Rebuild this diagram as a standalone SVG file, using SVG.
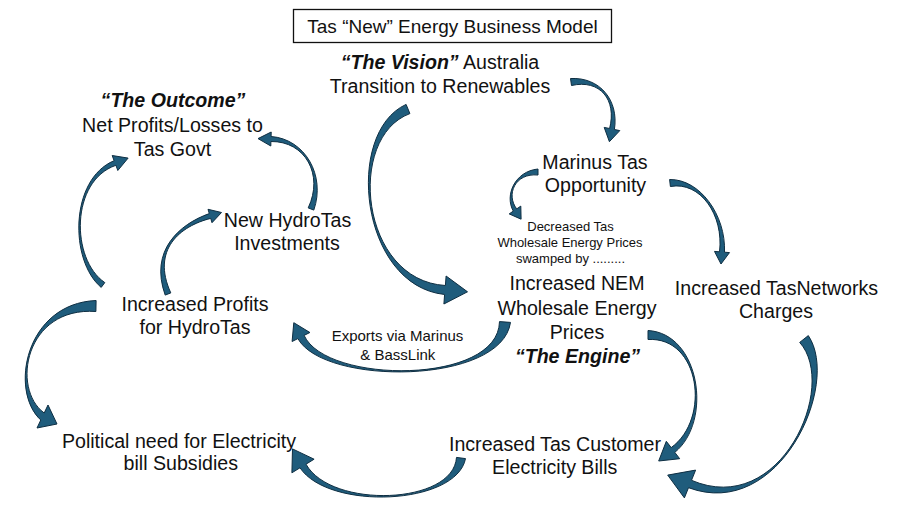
<svg xmlns="http://www.w3.org/2000/svg" width="902" height="511" viewBox="0 0 902 511">
<style>
.t{font-family:"Liberation Sans",Arial,sans-serif;font-size:19.6px;fill:#111;text-anchor:middle}
.s{font-size:13px}
.e{font-size:15px}
.bi{font-weight:bold;font-style:italic}
.ar{fill:#1f5c7c;stroke:#0e2e42;stroke-width:1;stroke-linejoin:round}
</style>
<rect x="0" y="0" width="902" height="511" fill="#fff"/>
<g id="connectors">
<path class="ar" d="M571.5,85.5 C600.1,79 617,99.8 609.6,128.5 L604.2,127.4 L609.4,141.7 L619.8,130.6 L614.4,129.5 C619,100.2 599.9,77 570.5,78.5 Z"/>
<path class="ar" d="M406.1,104.4 C344,132.7 359.8,285.5 444.6,294.5 L443.9,304 L467.5,291.8 L446.1,276 L445.4,285.5 C360.2,280.5 346,137.3 409.9,113.6 Z"/>
<path class="ar" d="M538,169 C515,171.2 504.3,195.4 513.3,211.1 L509.2,213.9 L521.1,219.2 L520.8,206.1 L516.7,208.9 C505.7,194.6 515,172.8 538,175 Z"/>
<path class="ar" d="M670.4,186.5 C700.1,181 724,214.9 719.5,251.8 L714.5,251.4 L721,264 L729.5,252.6 L724.5,252.2 C726,215.1 699.9,179 669.6,179.5 Z"/>
<path class="ar" d="M499.5,321.6 C498.5,384.9 326.3,384.3 304.1,335.4 L309.9,332.5 L293.8,322.7 L292.1,341.5 L297.9,338.6 C323.7,385.7 501.5,385.1 510.5,322.4 Z"/>
<path class="ar" d="M648,339.5 C700,336.5 711.1,418.8 671.2,447.6 L666.3,441.3 L658.7,461 L679.7,458.7 L674.8,452.4 C712.9,421.2 700,333.5 648,330.5 Z"/>
<path class="ar" d="M799.7,342.4 C838.8,385.9 780.6,518.6 691.5,480.3 L695.6,470.1 L667.7,475.1 L684.4,497.9 L688.5,487.7 C779.4,521.4 841.2,384.1 808.3,335.6 Z"/>
<path class="ar" d="M456.5,457.4 C453.5,504.8 331.3,509.2 306,464.2 L314.1,459.2 L292.5,448.9 L291.9,472.8 L300,467.8 C328.7,510.8 456.5,505.2 465.5,458.6 Z"/>
<path class="ar" d="M96.1,300.5 C25,303.5 9.1,391.2 40.8,420 L37,428 L57,424 L48,405 L44.2,413 C10.9,388.8 25,306.5 95.9,311.5 Z"/>
<path class="ar" d="M104.8,282.6 C70.6,259.2 70.4,180.9 115.9,165.3 L117.8,170.5 L128.1,158.1 L112.2,155.5 L114.1,160.7 C69.6,179.1 69.4,260.8 101.2,287.4 Z"/>
<path class="ar" d="M170.8,292.9 C150.9,249.6 180.3,226 210.7,218.4 L212,222.7 L221.5,212.5 L208,209.3 L209.3,213.6 C179.7,224 149.1,250.4 165.2,295.1 Z"/>
<path class="ar" d="M313.8,210.1 C325.9,175.4 305,139 271.1,136.5 L271.2,132 L258,138.6 L270.8,146 L270.9,141.5 C305,141 324.1,174.6 308.2,207.9 Z"/>
</g>
<g id="title">
<rect x="293.5" y="9.5" width="318" height="33" fill="#fff" stroke="#111" stroke-width="1.3"/>
<text class="t" x="452.5" y="33" style="font-size:19px">Tas “New” Energy Business Model</text>
</g>
<g id="vision">
<text class="t" x="440" y="69"><tspan class="bi">“The Vision”</tspan> Australia</text>
<text class="t" x="440" y="93">Transition to Renewables</text>
</g>
<g id="outcome">
<text class="t bi" x="173" y="107">“The Outcome”</text>
<text class="t" x="172.5" y="131.5">Net Profits/Losses to</text>
<text class="t" x="172.5" y="156">Tas Govt</text>
</g>
<g id="new-hydrotas">
<text class="t" x="287.5" y="226.5">New HydroTas</text>
<text class="t" x="287" y="250">Investments</text>
</g>
<g id="marinus">
<text class="t" x="595" y="168.5">Marinus Tas</text>
<text class="t" x="595.5" y="192">Opportunity</text>
</g>
<g id="decreased">
<text class="t s" x="570.5" y="231">Decreased Tas</text>
<text class="t s" x="570" y="246.7">Wholesale Energy Prices</text>
<text class="t s" x="570.5" y="263.3">swamped by .........</text>
</g>
<g id="engine">
<text class="t" x="577" y="290">Increased NEM</text>
<text class="t" x="577" y="315">Wholesale Energy</text>
<text class="t" x="577" y="339">Prices</text>
<text class="t bi" x="577.5" y="363">“The Engine”</text>
</g>
<g id="tasnetworks">
<text class="t" x="776.5" y="295">Increased TasNetworks</text>
<text class="t" x="776" y="317.5">Charges</text>
</g>
<g id="profits">
<text class="t" x="195" y="310.5">Increased Profits</text>
<text class="t" x="195" y="334">for HydroTas</text>
</g>
<g id="exports">
<text class="t e" x="397.5" y="340.7">Exports via Marinus</text>
<text class="t e" x="397.8" y="360">&amp; BassLink</text>
</g>
<g id="customer-bills">
<text class="t" x="555" y="450.5">Increased Tas Customer</text>
<text class="t" x="554.7" y="474">Electricity Bills</text>
</g>
<g id="political">
<text class="t" x="179" y="448.3">Political need for Electricity</text>
<text class="t" x="180.8" y="470">bill Subsidies</text>
</g>
</svg>
